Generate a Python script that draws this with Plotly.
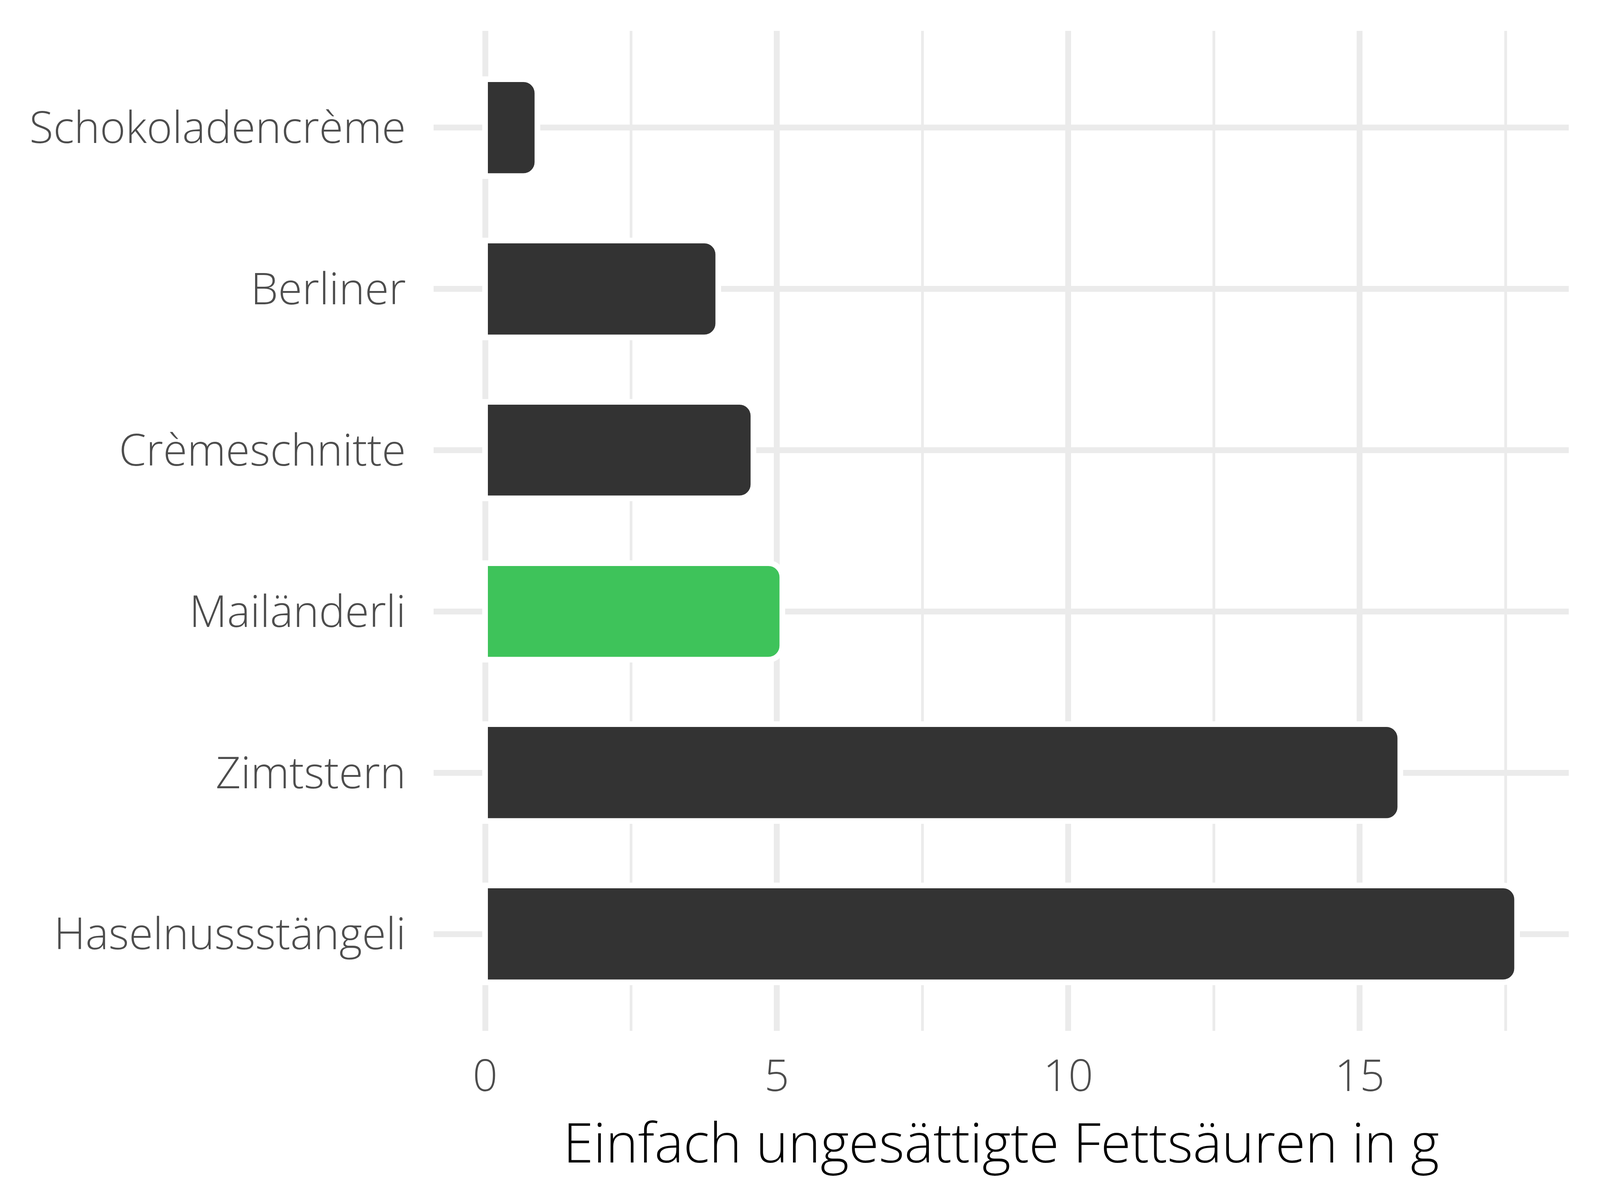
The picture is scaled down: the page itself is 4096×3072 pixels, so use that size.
import plotly.graph_objects as go

categories = ["Schokoladencrème", "Berliner", "Crèmeschnitte", "Mailänderli", "Zimtstern", "Haselnussstängeli"]
values = [0.9, 4.0, 4.6, 5.1, 15.7, 17.7]
bar_colors = ["#333333", "#333333", "#333333", "#3EC35A", "#333333", "#333333"]
x_ticks = [0, 5, 10, 15]
x_title = "Einfach ungesättigte Fettsäuren in g"

FONT = "Open Sans"
GRID = "#EBEBEB"

fig = go.Figure()
fig.add_trace(go.Bar(
    x=values,
    y=categories,
    orientation="h",
    width=0.6,
    marker=dict(color=bar_colors, line=dict(color="white", width=14.5), cornerradius=36),
    hoverinfo="x+y",
))

fig.update_layout(
    width=4096,
    height=3072,
    paper_bgcolor="white",
    plot_bgcolor="white",
    showlegend=False,
    margin=dict(l=1102, r=88, t=71, b=441),
    font=dict(family=FONT, color="#4D4D4D", size=112, weight=300),
    bargap=0,
)

fig.update_xaxes(
    range=[-0.885, 18.585],
    tickmode="array",
    tickvals=x_ticks,
    ticktext=[str(t) for t in x_ticks],
    showgrid=True,
    gridcolor=GRID,
    gridwidth=14.5,
    minor=dict(dtick=2.5, tick0=0, showgrid=True, gridcolor=GRID, gridwidth=6.5),
    zeroline=False,
    showline=False,
    ticks="",
    ticklabelstandoff=41,
    tickfont=dict(family=FONT, color="#4D4D4D", size=112, weight=300),
    title=dict(text=x_title, font=dict(family=FONT, color="#000000", size=140, weight=300), standoff=24),
    automargin=False,
)

fig.update_yaxes(
    categoryorder="array",
    categoryarray=categories,
    range=[5.6, -0.6],
    showgrid=True,
    gridcolor=GRID,
    gridwidth=14.5,
    zeroline=False,
    showline=False,
    ticks="",
    ticklabelstandoff=70,
    tickfont=dict(family=FONT, color="#4D4D4D", size=112, weight=300),
    automargin=False,
)

fig.write_html("out.html")
